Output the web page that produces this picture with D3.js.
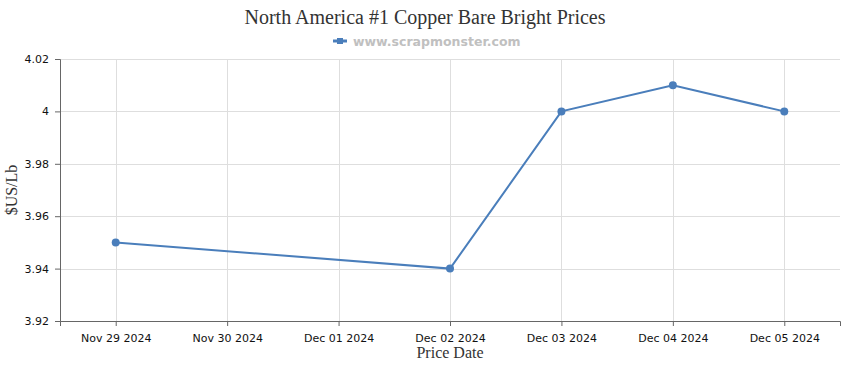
<!DOCTYPE html>
<html>
<head>
<meta charset="utf-8">
<script src="https://cdn.jsdelivr.net/npm/d3@7"></script>
<style>
  body { margin: 0; background: #fff; }
  .axis path, .axis line { stroke: #666; }
  .axis text { font-family: "DejaVu Sans", sans-serif; font-size: 11px; fill: #111; }
</style>
</head>
<body>
<div id="chart"></div>
<script>
// data
var dates = ["2024-11-29", "2024-12-02", "2024-12-03", "2024-12-04", "2024-12-05"];
var prices = [3.95, 3.94, 4.00, 4.01, 4.00];
var yTicks = [3.92, 3.94, 3.96, 3.98, 4, 4.02];
var xTickDates = ["2024-11-29", "2024-11-30", "2024-12-01", "2024-12-02", "2024-12-03", "2024-12-04", "2024-12-05"];

var W = 850, H = 370;
var margin = {top: 59, right: 10, bottom: 49, left: 60},
  width = W - margin.left - margin.right,
  height = H - margin.top - margin.bottom;

var parse = d3.utcParse("%Y-%m-%d");
var fmt = d3.utcFormat("%b %d %Y");
var data = dates.map(function(d, i) { return {date: parse(d), value: prices[i]}; });
var tickDates = xTickDates.map(parse);

var svg = d3.select("#chart").append("svg")
  .attr("width", W).attr("height", H);

var g = svg.append("g")
  .attr("transform", "translate(" + margin.left + "," + margin.top + ")");

// half a day of padding on both ends
var half = 12 * 3600 * 1000;
var x = d3.scaleUtc()
  .domain([new Date(tickDates[0].getTime() - half), new Date(tickDates[tickDates.length - 1].getTime() + half)])
  .range([0, width]);

var y = d3.scaleLinear()
  .domain([3.92, 4.02])
  .range([height, 0]);

// grid
g.append("g").selectAll("line.h")
  .data(yTicks).enter().append("line")
  .attr("x1", 0).attr("x2", width)
  .attr("y1", function(d) { return Math.round(y(d)) + 0.5; })
  .attr("y2", function(d) { return Math.round(y(d)) + 0.5; })
  .style("stroke", "#dedede");

g.append("g").selectAll("line.v")
  .data(tickDates).enter().append("line")
  .attr("y1", 0).attr("y2", height)
  .attr("x1", function(d) { return Math.round(x(d)) + 0.5; })
  .attr("x2", function(d) { return Math.round(x(d)) + 0.5; })
  .style("stroke", "#dedede");

// axes
g.append("g")
  .attr("class", "axis")
  .attr("transform", "translate(0," + height + ")")
  .call(d3.axisBottom(x).tickValues(tickDates).tickFormat(fmt).tickSizeOuter(0).tickSize(5).tickPadding(8));

g.append("g")
  .attr("class", "axis")
  .call(d3.axisLeft(y).tickValues(yTicks).tickFormat(function(d) { return d3.format("")(+d.toFixed(2)); }).tickSizeOuter(0).tickSize(5).tickPadding(6));

// line + points
var line = d3.line()
  .x(function(d) { return x(d.date); })
  .y(function(d) { return y(d.value); });

g.append("path")
  .datum(data)
  .attr("d", line)
  .style("fill", "none")
  .style("stroke", "#4a7ebb")
  .style("stroke-width", 2);

g.selectAll("circle")
  .data(data).enter().append("circle")
  .attr("cx", function(d) { return x(d.date); })
  .attr("cy", function(d) { return y(d.value); })
  .attr("r", 4)
  .style("fill", "#4a7ebb");

// title
svg.append("text")
  .attr("x", W / 2).attr("y", 24)
  .attr("text-anchor", "middle")
  .style("font-family", "'Liberation Serif', serif")
  .style("font-size", "20px")
  .style("fill", "#333")
  .text("North America #1 Copper Bare Bright Prices");

// legend
var leg = svg.append("g").attr("transform", "translate(340,41)");
leg.append("line").attr("x1", -7).attr("x2", 7).attr("y1", 0).attr("y2", 0)
  .style("stroke", "#4a7ebb").style("stroke-width", 3);
leg.append("rect").attr("x", -3).attr("y", -3).attr("width", 6).attr("height", 6)
  .style("fill", "#4a7ebb");
leg.append("text")
  .attr("x", 13).attr("y", 4.5)
  .style("font-family", "'DejaVu Sans', sans-serif")
  .style("font-weight", "bold")
  .style("font-size", "12.5px")
  .style("fill", "#c0c0c0")
  .text("www.scrapmonster.com");

// axis titles
svg.append("text")
  .attr("x", margin.left + width / 2).attr("y", 358)
  .attr("text-anchor", "middle")
  .style("font-family", "'Liberation Serif', serif")
  .style("font-size", "16px")
  .style("fill", "#333")
  .text("Price Date");

svg.append("text")
  .attr("transform", "translate(17," + (margin.top + height / 2) + ") rotate(-90)")
  .attr("text-anchor", "middle")
  .style("font-family", "'Liberation Serif', serif")
  .style("font-size", "16px")
  .style("fill", "#333")
  .text("$US/Lb");
</script>
</body>
</html>
